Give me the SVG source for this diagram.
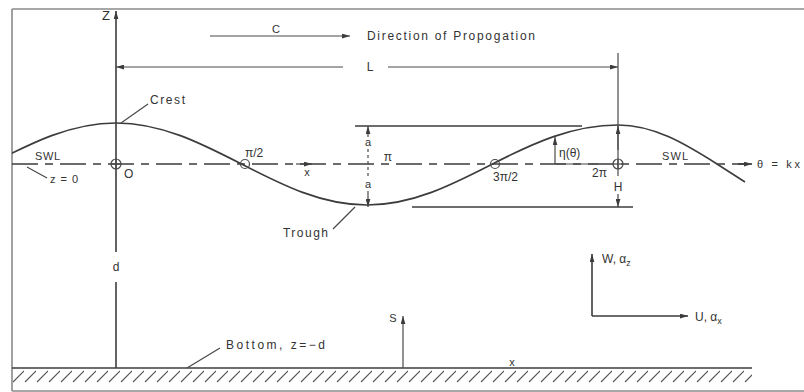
<svg xmlns="http://www.w3.org/2000/svg" width="804" height="392" viewBox="0 0 804 392">
<style>
.ln{stroke:#3c3c3c;stroke-width:1.6;fill:none}
.thin{stroke:#4a4a4a;stroke-width:1.2;fill:none}
.frame{stroke:#8a8a8a;stroke-width:1.6;fill:none}
.swl{stroke:#3c3c3c;stroke-width:1.6;fill:none;stroke-dasharray:26 7 8 7}
text{font-family:"Liberation Sans",Arial,sans-serif;fill:#333;font-size:12px}
.sm{font-size:11px}
.c{text-anchor:middle}
</style>
<defs>
<marker id="ah" viewBox="0 0 10 6" refX="10" refY="3" markerWidth="8" markerHeight="5" orient="auto-start-reverse" markerUnits="userSpaceOnUse">
<path d="M0,0 L10,3 L0,6 z" fill="#3c3c3c"/>
</marker>
<pattern id="hatch" x="12" y="369" width="12" height="14" patternUnits="userSpaceOnUse">
<line x1="1" y1="13" x2="12" y2="2" stroke="#555" stroke-width="1.1"/>
</pattern>
<clipPath id="frameclip"><rect x="12" y="9" width="792" height="382"/></clipPath>
</defs>

<g id="frame">
<line class="frame" x1="12" y1="9" x2="804" y2="9"/>
<line class="frame" x1="12" y1="9" x2="12" y2="391"/>
<line class="frame" x1="12" y1="391" x2="804" y2="391"/>
</g>

<g id="bottom">
<line class="ln" x1="12" y1="368" x2="752" y2="368"/>
<rect x="12" y="369" width="740" height="14" fill="url(#hatch)"/>
<text x="226" y="349" textLength="99" lengthAdjust="spacing">Bottom,  z=−d</text>
</g>

<g id="wave">
<path class="ln" clip-path="url(#frameclip)" d="M -9.5 164 C 31.4 143, 70.6 123, 116 123 C 161.4 123, 200.6 143, 241.5 164 C 282.4 185, 321.6 205, 367 205 C 412.4 205, 451.6 185, 492.5 164 C 533.4 143, 572.6 125, 618 125 C 653.8 125, 684.7 143.5, 717 164 L 745 182"/>
</g>

<g id="swl">
<line class="swl" x1="12" y1="164" x2="745" y2="164"/>
<line class="ln" x1="738" y1="164" x2="752" y2="164" marker-end="url(#ah)"/>
<text class="sm" x="35" y="160" textLength="25" lengthAdjust="spacing">SWL</text>
<text class="sm" x="662" y="160" textLength="26" lengthAdjust="spacing">SWL</text>
<text class="sm" x="50" y="183" textLength="28" lengthAdjust="spacing">z=0</text>
<text class="sm" x="757" y="168" textLength="43" lengthAdjust="spacing">θ = kx</text>
</g>

<g id="z-axis">
<line class="ln" x1="116" y1="368" x2="116" y2="282"/>
<line class="ln" x1="116" y1="252" x2="116" y2="11" marker-end="url(#ah)"/>
<text x="102" y="20" style="font-size:13px">Z</text>
<text class="c" x="116" y="271">d</text>
</g>

<g id="celerity">
<line class="thin" x1="210" y1="36" x2="350" y2="36" marker-end="url(#ah)"/>
<text class="sm c" x="276" y="33">C</text>
<text x="367" y="40" textLength="168" lengthAdjust="spacing">Direction  of  Propogation</text>
</g>

<g id="wavelength">
<line class="thin" x1="343" y1="67" x2="116" y2="67" marker-end="url(#ah)"/>
<line class="thin" x1="388" y1="67" x2="618" y2="67" marker-end="url(#ah)"/>
<text class="c" x="370" y="71">L</text>
</g>

<g id="height">
<line class="thin" x1="618" y1="53" x2="618" y2="176"/>
<line class="thin" x1="618" y1="150" x2="618" y2="126" marker-end="url(#ah)"/>
<line class="thin" x1="618" y1="194" x2="618" y2="207" marker-end="url(#ah)"/>
<text class="c" x="618" y="191">H</text>
<line class="ln" x1="355" y1="126" x2="582" y2="126"/>
<line class="ln" x1="412" y1="207" x2="633" y2="207"/>
</g>

<g id="amplitude">
<line class="thin" x1="368" y1="137" x2="368" y2="126" marker-end="url(#ah)"/>
<line class="thin" x1="368" y1="149" x2="368" y2="179" stroke-dasharray="3 3"/>
<line class="thin" x1="368" y1="191" x2="368" y2="207" marker-end="url(#ah)"/>
<text class="sm c" x="368" y="146">a</text>
<text class="sm c" x="368" y="188">a</text>
</g>

<g id="eta">
<line class="thin" x1="555" y1="164" x2="555" y2="137" marker-end="url(#ah)"/>
<line class="thin" x1="555" y1="164" x2="598" y2="164"/>
<text x="559" y="157">η(θ)</text>
</g>

<g id="phase-points">
<circle class="thin" cx="116" cy="164" r="5" fill="#fff"/>
<line class="thin" x1="111" y1="164" x2="121" y2="164"/>
<line class="thin" x1="116" y1="159" x2="116" y2="169"/>
<circle class="thin" cx="245" cy="164" r="4.5" fill="#fff"/>
<circle class="thin" cx="495" cy="164" r="4.5" fill="#fff"/>
<circle class="thin" cx="618" cy="164" r="5" fill="#fff"/>
<line class="thin" x1="613" y1="164" x2="623" y2="164"/>
<line class="thin" x1="618" y1="159" x2="618" y2="169"/>
<text x="124" y="178">O</text>
<text x="245" y="157">π/2</text>
<text class="c" x="388" y="161">π</text>
<text x="493" y="181">3π/2</text>
<text x="592" y="177">2π</text>
<line class="thin" x1="296" y1="164" x2="312" y2="164" marker-end="url(#ah)"/>
<text class="sm c" x="307" y="176">x</text>
</g>

<g id="labels">
<line class="thin" x1="121" y1="123" x2="148" y2="104"/>
<text x="150" y="104" textLength="35" lengthAdjust="spacing">Crest</text>
<line class="thin" x1="333" y1="229" x2="355" y2="207"/>
<text x="283" y="237" textLength="45" lengthAdjust="spacing">Trough</text>
<line class="thin" x1="27" y1="167" x2="47" y2="178"/>
<line class="thin" x1="187" y1="368" x2="220" y2="348"/>
</g>

<g id="s-coordinate">
<line class="thin" x1="403" y1="368" x2="403" y2="316" marker-end="url(#ah)"/>
<text class="sm c" x="393" y="322">S</text>
<text class="sm c" x="512" y="366">x</text>
</g>

<g id="velocity-axes">
<line class="ln" x1="592" y1="316" x2="592" y2="254" marker-end="url(#ah)"/>
<line class="ln" x1="592" y1="316" x2="688" y2="316" marker-end="url(#ah)"/>
<text x="602" y="263">W, α<tspan dy="3" style="font-size:9px">z</tspan></text>
<text x="695" y="321">U, α<tspan dy="3" style="font-size:9px">x</tspan></text>
</g>
</svg>
